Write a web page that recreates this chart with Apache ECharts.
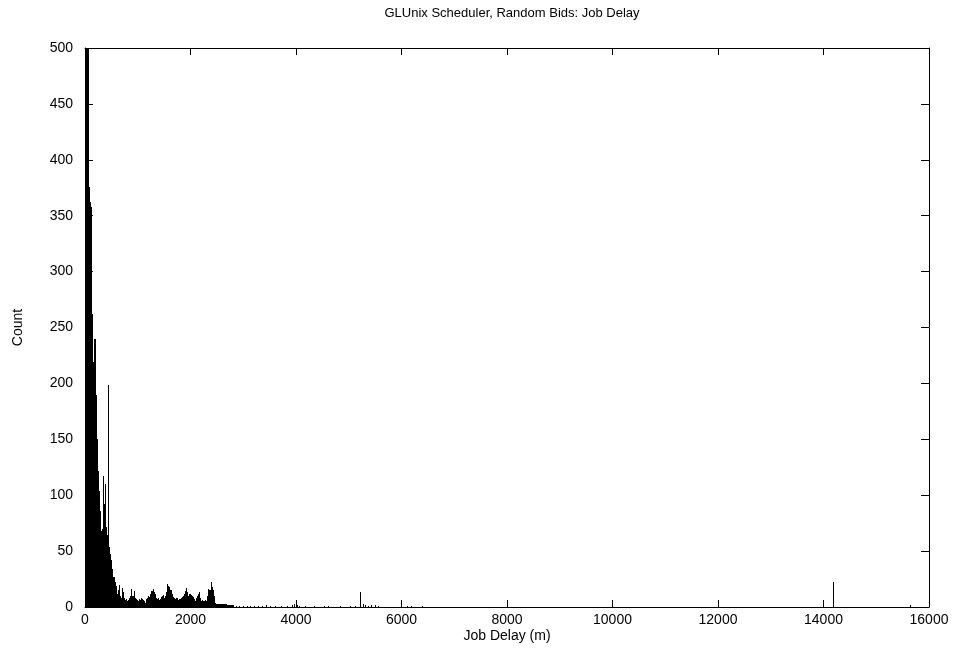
<!DOCTYPE html>
<html>
<head>
<meta charset="utf-8">
<title>GLUnix Scheduler, Random Bids: Job Delay</title>
<script src="https://cdn.jsdelivr.net/npm/echarts@6/dist/echarts.min.js"></script>
<style>
  html, body { margin: 0; padding: 0; background: #fff; }
  #chart { width: 956px; height: 665px; }
</style>
</head>
<body>
<div id="chart"></div>
<script>
// Histogram of job delays (minutes), 20-minute bins for the dense head of the distribution.
const BIN = 20;
const headCounts = [
  500, 500, 500, 500, 376, 362, 358, 262, 219, 240,
  190, 150, 122, 104, 86, 68, 70, 117, 92, 110,
  72, 64, 199, 54, 47, 42, 34, 27, 22, 19,
  12, 15, 20, 10, 8, 17, 13, 8, 6, 7,
  5, 6, 8, 10, 16, 10, 14, 8, 7, 6,
  5, 7, 6, 8, 7, 6, 5, 4, 7, 8,
  10, 9, 12, 14, 16, 13, 12, 8, 7, 8,
  6, 7, 9, 10, 11, 8, 10, 13, 21, 19,
  18, 15, 12, 9, 8, 7, 8, 8, 6, 7,
  7, 8, 9, 10, 12, 14, 17, 13, 10, 12,
  11, 10, 9, 7, 5, 8, 10, 12, 13, 8,
  5, 6, 5, 5, 6, 5, 10, 16, 15, 22,
  18, 15, 10, 4, 3, 3, 3, 3, 3, 3,
  3, 3, 3, 3, 3, 2, 2, 2, 2, 2,
  2
];
// Sparse tail: individual delays and their counts.
const tailDelays = [
  2805, 2863, 2920, 2995, 3071, 3128, 3204, 3280, 3355, 3431,
  3507, 3602, 3716, 3829, 3924, 3962, 4019, 4057, 4171, 4341,
  4531, 4607, 4834, 5024, 5118, 5213, 5270, 5308, 5365, 5422,
  5498, 5555, 6104, 6180, 6389, 14180, 15640
];
const tailCounts = [
  1, 1, 1, 1, 1, 1, 1, 1, 1, 2,
  1, 1, 1, 1, 2, 3, 2, 1, 1, 1,
  1, 1, 1, 1, 1, 13, 3, 2, 1, 2,
  2, 1, 1, 1, 1, 22, 2
];
const xTicks = { min: 0, max: 16000, step: 2000 };
const yTicks = { min: 0, max: 500, step: 50 };

const headData = headCounts.map((c, i) => [i * BIN, c, BIN]);
const tailData = tailDelays.map((d, i) => [d, tailCounts[i], 0]);

const chart = echarts.init(document.getElementById('chart'), null, { renderer: 'canvas' });

const FONT = 'Liberation Sans, Arial, sans-serif';
const FS = 14;

// Each bin is a solid black column snapped to whole pixels.
function renderBar(params, api) {
  const x0 = api.value(0);
  const c = api.value(1);
  const w = api.value(2);
  const base = api.coord([x0, 0]);
  const top = api.coord([x0 + w, c]);
  const left = Math.round(base[0]);
  const width = Math.max(1, Math.round(top[0]) - left);
  const y = Math.round(top[1]);
  return {
    type: 'rect',
    shape: { x: left, y: y, width: width, height: Math.round(base[1]) - y },
    style: { fill: '#000' }
  };
}

const plain = v => String(v);

const axisCommon = {
  type: 'value',
  splitLine: { show: false },
  axisLine: { show: true, onZero: false, lineStyle: { color: '#000', width: 1 } }
};
const xTick = { show: true, inside: true, length: 7, lineStyle: { color: '#000', width: 1 } };
const yTick = { show: true, inside: true, length: 8, lineStyle: { color: '#000', width: 1 } };

chart.setOption({
  animation: false,
  backgroundColor: '#fff',
  title: {
    text: 'GLUnix Scheduler, Random Bids: Job Delay',
    left: 507,
    textAlign: 'center',
    top: 2,
    textStyle: { fontFamily: FONT, fontSize: 13, fontWeight: 'normal', color: '#000' }
  },
  grid: { left: 85, right: 27, top: 48, bottom: 58, containLabel: false },
  xAxis: [
    Object.assign({}, axisCommon, {
      position: 'bottom',
      axisTick: xTick,
      min: xTicks.min, max: xTicks.max, interval: xTicks.step,
      name: 'Job Delay (m)',
      nameLocation: 'middle',
      nameGap: 22,
      nameMoveOverlap: false,
      nameTextStyle: { fontFamily: FONT, fontSize: FS, color: '#000' },
      axisLabel: { fontFamily: FONT, fontSize: FS, color: '#000', margin: 6, formatter: plain }
    }),
    Object.assign({}, axisCommon, {
      position: 'top',
      axisTick: xTick,
      min: xTicks.min, max: xTicks.max, interval: xTicks.step,
      axisLabel: { show: false }
    })
  ],
  yAxis: [
    Object.assign({}, axisCommon, {
      position: 'left',
      axisTick: yTick,
      min: yTicks.min, max: yTicks.max, interval: yTicks.step,
      name: 'Count',
      nameLocation: 'middle',
      nameGap: 60,
      nameRotate: 90,
      nameMoveOverlap: false,
      nameTextStyle: { fontFamily: FONT, fontSize: FS, color: '#000' },
      axisLabel: { fontFamily: FONT, fontSize: FS, color: '#000', margin: 12, formatter: plain }
    }),
    Object.assign({}, axisCommon, {
      position: 'right',
      axisTick: yTick,
      min: yTicks.min, max: yTicks.max, interval: yTicks.step,
      axisLabel: { show: false }
    })
  ],
  series: [
    {
      type: 'custom',
      name: 'head',
      xAxisIndex: 0, yAxisIndex: 0,
      clip: true,
      renderItem: renderBar,
      data: headData
    },
    {
      type: 'custom',
      name: 'tail',
      xAxisIndex: 0, yAxisIndex: 0,
      clip: true,
      renderItem: renderBar,
      data: tailData
    }
  ]
});
</script>
</body>
</html>
